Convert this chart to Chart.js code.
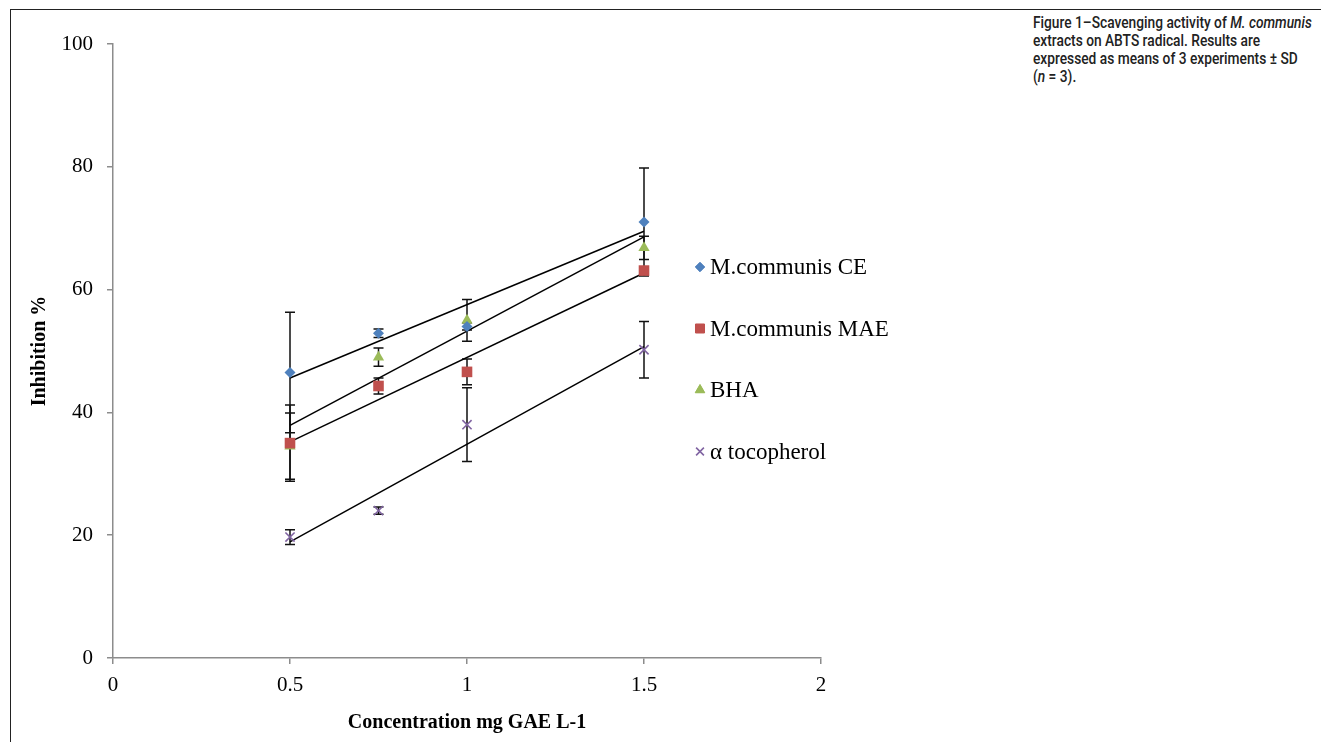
<!DOCTYPE html>
<html>
<head>
<meta charset="utf-8">
<script src="https://cdn.jsdelivr.net/npm/chart.js@4.4.0/dist/chart.umd.min.js"></script>
<style>
  html, body { margin: 0; padding: 0; background: #fff; }
  body { width: 1321px; height: 742px; position: relative; overflow: hidden; }
  #frame { position: absolute; left: 10px; top: 9px; width: 1330px; height: 760px;
           border-left: 1.5px solid #222; border-top: 1.5px solid #222; }
  #wrap { position: absolute; left: 12px; top: 11px; width: 900px; height: 731px; }
  #caption { position: absolute; left: 1033px; top: 13px; white-space: nowrap; display: inline-block;
             font-family: Roboto, 'Open Sans', sans-serif; transform-origin: 0 0;
             font-size: 17px; line-height: 18px; font-weight: 500; color: #222; }
</style>
</head>
<body>
<div id="frame"></div>
<div id="wrap"><canvas id="chart" width="900" height="731"></canvas></div>
<div id="caption">Figure 1–Scavenging activity of <i>M. communis</i><br>extracts on ABTS radical. Results are<br>expressed as means of 3 experiments ± SD<br>(<i>n</i> = 3).</div>
<script>
// values
const concentrations = [0.5, 0.75, 1, 1.5];

const ceValues = [46.5, 52.9, 54.0, 71.0];
const ceErrors = [9.8, 0.7, 0.6, 8.8];
const maeValues = [35.0, 44.3, 46.6, 63.1];
const maeErrors = [6.2, 1.3, 2.1, 0.5];
const bhaValues = [34.5, 49.0, 55.0, 66.8];
const bhaErrors = [5.4, 1.5, 3.4, 1.9];
const tocoValues = [19.7, 24.0, 38.0, 50.2];
const tocoErrors = [1.2, 0.6, 6.0, 4.6];

// trendline ends at x = 0.5 and x = 1.5
const trendX = [0.5, 1.5];
const ceTrend = [45.6, 69.5];
const maeTrend = [35.2, 62.7];
const bhaTrend = [37.9, 68.6];
const tocoTrend = [18.9, 50.7];

const seriesNames = ['M.communis CE', 'M.communis MAE', 'BHA', 'α tocopherol'];
const xTicks = [0, 0.5, 1, 1.5, 2];
const xTickLabels = ['0', '0.5', '1', '1.5', '2'];
const yTicks = [0, 20, 40, 60, 80, 100];

const colors = ['#4F81BD', '#C0504D', '#9BBB59', '#8064A2'];
const shapes = ['rectRot', 'rect', 'triangle', 'crossRot'];
const radii = [5.5, 7.5, 6.5, 6.5];

// squeeze the caption so its widest line matches the original (condensed face)
const cap = document.getElementById('caption');
cap.style.transform = 'scaleX(' + (279 / cap.offsetWidth) + ')';

const toPoints = (xs, ys) => xs.map((x, i) => ({ x: x, y: ys[i] }));

const pointSets = [ceValues, maeValues, bhaValues, tocoValues];
const errorSets = [ceErrors, maeErrors, bhaErrors, tocoErrors];
const trendSets = [ceTrend, maeTrend, bhaTrend, tocoTrend];

const datasets = [];
pointSets.forEach((vals, i) => {
  datasets.push({
    type: 'scatter',
    label: seriesNames[i],
    data: toPoints(concentrations, vals),
    errors: errorSets[i],
    pointStyle: shapes[i],
    pointRadius: radii[i],
    pointBackgroundColor: colors[i],
    pointBorderColor: colors[i],
    pointBorderWidth: i === 3 ? 1.6 : 0,
    showLine: false
  });
});
trendSets.forEach((vals, i) => {
  datasets.push({
    type: 'line',
    label: 'trend ' + i,
    data: toPoints(trendX, vals),
    borderColor: '#000',
    borderWidth: 1.5,
    pointRadius: 0,
    fill: false
  });
});

// vertical error bars with caps, drawn under the markers
const errorBars = {
  id: 'errorBars',
  beforeDatasetsDraw(chart) {
    const ctx = chart.ctx;
    const xs = chart.scales.x, ys = chart.scales.y;
    ctx.save();
    ctx.strokeStyle = '#111';
    ctx.lineWidth = 1.5;
    chart.data.datasets.forEach(ds => {
      if (!ds.errors) return;
      ds.data.forEach((p, j) => {
        const e = ds.errors[j];
        const px = xs.getPixelForValue(p.x);
        const top = ys.getPixelForValue(p.y + e);
        const bot = ys.getPixelForValue(p.y - e);
        ctx.beginPath();
        ctx.moveTo(px, top); ctx.lineTo(px, bot);
        ctx.moveTo(px - 5, top); ctx.lineTo(px + 5, top);
        ctx.moveTo(px - 5, bot); ctx.lineTo(px + 5, bot);
        ctx.stroke();
      });
    });
    ctx.restore();
  }
};

// legend placed inside the plot, like the original
const sideLegend = {
  id: 'sideLegend',
  afterDraw(chart) {
    const ctx = chart.ctx;
    ctx.save();
    ctx.font = '23px "Liberation Serif", "Times New Roman", serif';
    ctx.textBaseline = 'middle';
    seriesNames.forEach((name, i) => {
      const y = 256 + i * 61.5;
      ctx.fillStyle = colors[i];
      ctx.strokeStyle = colors[i];
      ctx.lineWidth = i === 3 ? 1.6 : 0;
      Chart.helpers.drawPoint(ctx, { pointStyle: shapes[i], radius: radii[i] * 0.85, borderWidth: ctx.lineWidth }, 688, y);
      if (i !== 3) ctx.fill();
      ctx.fillStyle = '#000';
      ctx.fillText(name, 698, y + 1);
    });
    ctx.restore();
  }
};

const tickFont = { family: '"Liberation Serif", "Times New Roman", serif', size: 21 };
const titleFont = { family: '"Liberation Serif", "Times New Roman", serif', size: 20, weight: 'bold' };

new Chart(document.getElementById('chart'), {
  data: { datasets: datasets },
  plugins: [errorBars, sideLegend],
  options: {
    responsive: false,
    animation: false,
    layout: { padding: { left: 0, top: 33, right: 91, bottom: 0 } },
    plugins: { legend: { display: false }, tooltip: { enabled: false } },
    scales: {
      x: {
        type: 'linear', min: 0, max: 2,
        afterFit(scale) { scale.height = 84; },
        afterBuildTicks(scale) { scale.ticks = xTicks.map(v => ({ value: v })); },
        border: { color: '#8c8c8c', width: 1.5 },
        grid: { drawOnChartArea: false, color: '#8c8c8c', tickLength: 6, lineWidth: 1.5 },
        ticks: { font: tickFont, color: '#000', padding: 9,
                 callback: (v) => xTickLabels[xTicks.indexOf(v)] },
        title: { display: true, text: 'Concentration mg GAE L-1', font: titleFont, color: '#000', padding: { top: 4, bottom: 7 } }
      },
      y: {
        type: 'linear', min: 0, max: 100,
        afterFit(scale) { scale.width = 101; },
        afterBuildTicks(scale) { scale.ticks = yTicks.map(v => ({ value: v })); },
        border: { color: '#8c8c8c', width: 1.5 },
        grid: { drawOnChartArea: false, color: '#8c8c8c', tickLength: 6, lineWidth: 1.5 },
        ticks: { font: tickFont, color: '#000', padding: 14 },
        title: { display: true, text: 'Inhibition %', font: titleFont, color: '#000', padding: { top: 16, bottom: 0 } }
      }
    }
  }
});
</script>
</body>
</html>
